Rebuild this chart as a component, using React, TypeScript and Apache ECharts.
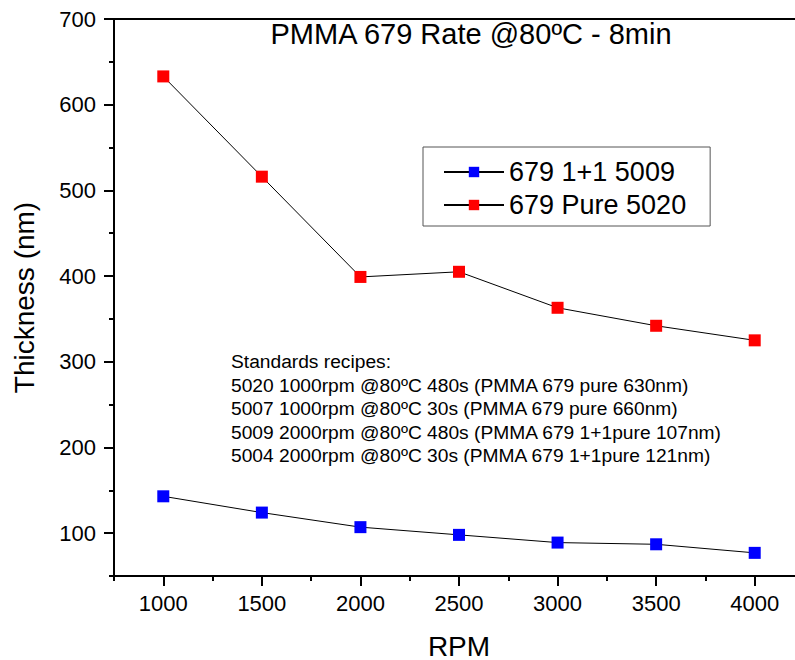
import { useEffect, useRef } from "react";
import * as echarts from "echarts";

const rpm = [1000, 1500, 2000, 2500, 3000, 3500, 4000];
const mix11 = [143, 124, 107, 98, 89, 87, 77];
const pure = [633, 516, 399, 405, 363, 342, 325];
const seriesNames = ["679 1+1 5009", "679 Pure 5020"];
const seriesColors = ["#0000ff", "#ff0000"];
const yMajor = [100, 200, 300, 400, 500, 600, 700];
const yMinor = [50, 150, 250, 350, 450, 550, 650];
const xMajor = [1000, 1500, 2000, 2500, 3000, 3500, 4000];
const xMinor = [750, 1250, 1750, 2250, 2750, 3250, 3750, 4250];
const titleText = "PMMA 679 Rate @80ºC - 8min";
const xName = "RPM";
const yName = "Thickness (nm)";
const noteLines = [
  "Standards recipes:",
  "5020 1000rpm @80ºC 480s (PMMA 679 pure 630nm)",
  "5007 1000rpm @80ºC 30s (PMMA 679 pure 660nm)",
  "5009 2000rpm @80ºC 480s (PMMA 679 1+1pure 107nm)",
  "5004 2000rpm @80ºC 30s (PMMA 679 1+1pure 121nm)",
];

const FONT = "Liberation Sans, Arial, Helvetica, sans-serif";

export default function App() {
  const ref = useRef<HTMLDivElement>(null);
  useEffect(() => {
    if (!ref.current) return;
    const chart = echarts.init(ref.current, null, { renderer: "svg" });
    const seriesData = [mix11, pure];
    const axisLine = { show: true, lineStyle: { color: "#000", width: 2 } };
    const plain = (v: number) => String(v);
    chart.setOption({
      animation: false,
      backgroundColor: "#fff",
      textStyle: { fontFamily: FONT },
      grid: {
        left: 114,
        top: 19,
        width: 690,
        height: 557,
        outerBoundsMode: "none",
        containLabel: false,
        show: true,
        borderColor: "#000",
        borderWidth: 2,
        backgroundColor: "transparent",
      },
      xAxis: [
        {
          type: "value",
          min: 750,
          max: 4250,
          position: "bottom",
          axisLine,
          axisTick: { show: true, customValues: xMajor, length: 10, lineStyle: { color: "#000", width: 2 } },
          axisLabel: { customValues: xMajor, formatter: plain, fontSize: 22, color: "#000", margin: 16, fontFamily: FONT },
          splitLine: { show: false },
          name: xName,
          nameLocation: "middle",
          nameGap: 56,
          nameTextStyle: { fontSize: 28, color: "#000", fontFamily: FONT },
        },
        {
          type: "value",
          min: 750,
          max: 4250,
          position: "bottom",
          axisLine: { show: false },
          axisTick: { show: true, customValues: xMinor, length: 5, lineStyle: { color: "#000", width: 2 } },
          axisLabel: { show: false },
          splitLine: { show: false },
        },
      ],
      yAxis: [
        {
          type: "value",
          min: 50,
          max: 700,
          position: "left",
          axisLine,
          axisTick: { show: true, customValues: yMajor, length: 10, lineStyle: { color: "#000", width: 2 } },
          axisLabel: { customValues: yMajor, formatter: plain, fontSize: 22, color: "#000", margin: 18, fontFamily: FONT },
          splitLine: { show: false },
          name: yName,
          nameLocation: "middle",
          nameGap: 76,
          nameTextStyle: { fontSize: 28, color: "#000", fontFamily: FONT },
        },
        {
          type: "value",
          min: 50,
          max: 700,
          position: "left",
          axisLine: { show: false },
          axisTick: { show: true, customValues: yMinor, length: 5, lineStyle: { color: "#000", width: 2 } },
          axisLabel: { show: false },
          splitLine: { show: false },
        },
      ],
      legend: {
        data: seriesNames,
        orient: "vertical",
        left: 423,
        top: 147,
        padding: [10, 24, 6, 20],
        itemGap: 3,
        itemWidth: 60,
        itemHeight: 13,
        borderColor: "#555",
        borderWidth: 1,
        textStyle: { fontSize: 27, color: "#000", fontFamily: FONT, lineHeight: 30 },
      },
      graphic: [
        {
          type: "text",
          x: 471,
          y: 34,
          style: {
            text: titleText,
            align: "center",
            verticalAlign: "middle",
            fontSize: 29,
            fill: "#000",
            fontFamily: FONT,
          },
        },
        {
          type: "text",
          x: 231,
          y: 350,
          style: {
            text: noteLines.join("\n"),
            fontSize: 19.2,
            lineHeight: 23.5,
            fill: "#000",
            fontFamily: FONT,
          },
        },
      ],
      series: seriesNames.map((name, i) => ({
        name,
        type: "line",
        xAxisIndex: 0,
        yAxisIndex: 0,
        data: rpm.map((r, j) => [r, seriesData[i][j]]),
        symbol: "rect",
        symbolSize: 12,
        lineStyle: { color: "#000", width: 1 },
        itemStyle: { color: seriesColors[i] },
        z: 3,
      })),
    });
    return () => chart.dispose();
  }, []);
  return (
    <div
      ref={ref}
      style={{ position: "absolute", left: 0, top: 0, width: 795, height: 660 }}
    />
  );
}
